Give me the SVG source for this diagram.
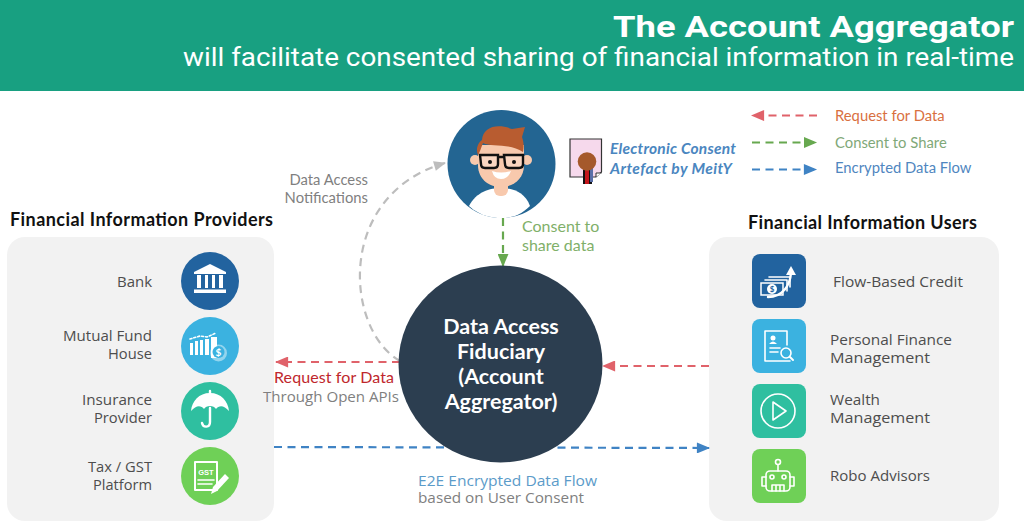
<svg xmlns="http://www.w3.org/2000/svg" width="1024" height="521" viewBox="0 0 1024 521">
<style>
.r{font-family:"Open Sans","Liberation Sans",sans-serif;font-size:15px;fill:#4d4d4d}
.l{font-family:Lato,"Liberation Sans",sans-serif}
.h{font-family:Lato,"Liberation Sans",sans-serif;font-weight:700;font-size:18px;fill:#111}
.c{font-family:Lato,"Liberation Sans",sans-serif;font-weight:700;font-size:21.5px;fill:#fff;text-anchor:middle}
.end{text-anchor:end}
.dash{fill:none;stroke-width:2.2;stroke-dasharray:8 5.500}
.ic{fill:none;stroke:#fff;stroke-width:1.6;stroke-linecap:round;stroke-linejoin:round}
.if{fill:#fff}
</style>
<defs>
<marker id="mr" viewBox="0 0 12 10" refX="11" refY="5" markerWidth="14" markerHeight="11" markerUnits="userSpaceOnUse" orient="auto"><path d="M0 0L12 5L0 10Z" fill="#e0626a"/></marker>
<marker id="mg" viewBox="0 0 12 10" refX="11" refY="5" markerWidth="14" markerHeight="11" markerUnits="userSpaceOnUse" orient="auto"><path d="M0 0L12 5L0 10Z" fill="#67a84f"/></marker>
<marker id="mb" viewBox="0 0 12 10" refX="11" refY="5" markerWidth="15" markerHeight="11" markerUnits="userSpaceOnUse" orient="auto"><path d="M0 0L12 5L0 10Z" fill="#3f83c4"/></marker>
<marker id="my" viewBox="0 0 12 10" refX="11" refY="5" markerWidth="14" markerHeight="10" markerUnits="userSpaceOnUse" orient="auto"><path d="M0 0L12 5L0 10Z" fill="#bdbdbd"/></marker>
</defs>
<g id="header">
<rect width="1024" height="91" fill="#18a081"/>
<text x="1014" y="37" class="end" font-family="Roboto,sans-serif" font-weight="700" font-size="30" fill="#fff" textLength="401" lengthAdjust="spacingAndGlyphs">The Account Aggregator</text>
<text x="1014" y="66" class="end" font-family="Roboto,sans-serif" font-size="25" fill="#fff" textLength="831" lengthAdjust="spacingAndGlyphs">will facilitate consented sharing of financial information in real-time</text>
</g>
<g id="panel-providers"><rect x="7" y="237" width="267" height="284" rx="18" fill="#f2f2f2"/>
<text x="10" y="226" class="h" textLength="263">Financial Information Providers</text></g>
<g id="panel-users"><rect x="709" y="237" width="290" height="284" rx="18" fill="#f2f2f2"/>
<text x="748" y="229" class="h" textLength="229">Financial Information Users</text></g>
<g id="connectors">
<path class="dash" stroke="#bdbdbd" d="M400 361C345 330 335 195 445 163" marker-end="url(#my)"/>
<path class="dash" stroke="#67a84f" d="M503 218V266" marker-end="url(#mg)"/>
<path class="dash" stroke="#e0626a" d="M400 362H276" marker-end="url(#mr)"/>
<path class="dash" stroke="#e0626a" d="M709 366H603" marker-end="url(#mr)"/>
<path class="dash" stroke="#3f83c4" d="M274 447L709 448" marker-end="url(#mb)"/>
</g>
<g id="legend">
<path class="dash" stroke="#e0626a" d="M817 115.500H752" marker-end="url(#mr)"/>
<path class="dash" stroke="#67a84f" d="M752 142.500H816" marker-end="url(#mg)"/>
<path class="dash" stroke="#3f83c4" d="M752 169.500H816" marker-end="url(#mb)"/>
<text x="835" y="121" class="l" font-size="14.800" fill="#d9703f">Request for Data</text>
<text x="835" y="148" class="l" font-size="14.800" fill="#7fa878">Consent to Share</text>
<text x="835" y="173" class="l" font-size="14.800" fill="#4f86c0">Encrypted Data Flow</text>
</g>
<g id="node-user">
<circle cx="501.500" cy="164" r="54" fill="#236592"/>
<path d="M469 206C476 192 490 188 501 188S525 192 530 206C520 216 510 218 501 218S480 216 469 206Z" fill="#fff"/>
<rect x="494" y="176" width="14" height="20" rx="6" fill="#f8c9ad"/>
<circle cx="475" cy="160" r="5" fill="#f8c9ad"/><circle cx="527" cy="160" r="5" fill="#f8c9ad"/>
<path d="M478 145H524V165C524 180 512 187 501 187S478 180 478 165Z" fill="#f8c9ad"/>
<path d="M478 155C475 148 479 142 482 140C483 127 497 123 512 129L525 127L522 137C524 143 524 147 523 152C510 143 490 147 483 143C481 148 480 152 478 155Z" fill="#b85c30"/>
<path d="M480 155H498V164Q498 168 494 168H485Q481 168 481 164ZM504 155H523V164Q523 168 519 168H509Q505 168 505 164ZM498 157H504" fill="#fff" fill-opacity=".25" stroke="#111" stroke-width="2.400"/>
<circle cx="490" cy="162" r="2" fill="#111"/><circle cx="514" cy="162" r="2" fill="#111"/>
<path d="M492 171Q501 174 511 171Q508 179 501 179T492 171Z" fill="#fff"/>
</g>
<g id="node-certificate">
<path d="M570 139H601.500V172L596 177H570Z" fill="#f6d9ec" stroke="#333" stroke-width="1.200"/>
<path d="M596 177V173H601.500" fill="#fff" stroke="#333"/>
<path d="M583 165H592V184H583Z" fill="#111"/><path d="M585 165H589V184H585Z" fill="#c4161c"/><path d="M590 168H593V182H590Z" fill="#5a6fa8"/>
<circle cx="587" cy="161.500" r="9.300" fill="#a5592b"/>
<text x="610" y="154" class="l" font-style="italic" font-weight="700" font-size="15.500" fill="#4a86c0" textLength="126">Electronic Consent</text>
<text x="610" y="174" class="l" font-style="italic" font-weight="700" font-size="15.500" fill="#4a86c0" textLength="122">Artefact by MeitY</text>
</g>
<g id="labels">
<text x="368" y="185" class="l end" font-size="14.800" fill="#7f7f7f">Data Access</text>
<text x="368" y="203" class="l end" font-size="14.800" fill="#7f7f7f">Notifications</text>
<text x="522" y="232" class="l" font-size="16" fill="#7fb069">Consent to</text>
<text x="522" y="251" class="l" font-size="16" fill="#7fb069">share data</text>
<text x="394" y="383" class="l end" font-size="16" fill="#c0272d" textLength="120">Request for Data</text>
<text x="399" y="402" class="r end" style="fill:#808080;font-size:14px" textLength="136" lengthAdjust="spacingAndGlyphs">Through Open APIs</text>
<text x="418" y="486" class="r" style="fill:#5b9bc9;font-size:14.500px" textLength="179" lengthAdjust="spacingAndGlyphs">E2E Encrypted Data Flow</text>
<text x="418" y="503" class="r" style="fill:#808080;font-size:14.500px" textLength="166" lengthAdjust="spacingAndGlyphs">based on User Consent</text>
</g>
<g id="node-aa">
<ellipse cx="500.500" cy="364" rx="102" ry="98.500" fill="#2c3e50"/>
<text x="501" y="334" class="c">Data Access</text>
<text x="501" y="359" class="c">Fiduciary</text>
<text x="501" y="384" class="c">(Account</text>
<text x="501" y="409" class="c">Aggregator)</text>
</g>
<g id="node-bank">
<circle cx="210" cy="281" r="29" fill="#22639f"/>
<path class="if" d="M210 264L226 272V274H194V272Z"/>
<path class="if" d="M197 275h4v13h-4zM205 275h3v13h-3zM212 275h3v13h-3zM219 275h4v13h-4zM194 289.500H226V293H194Z"/>
<text x="152" y="287" class="r end" textLength="35" lengthAdjust="spacingAndGlyphs">Bank</text>
</g>
<g id="node-mutual-fund">
<circle cx="210" cy="346" r="29" fill="#3bb2e0"/>
<path class="if" d="M190 355V343h3v12zM195 355V341h3v14zM200 355V340h3v15zM205 355V339h4v16zM211 358V337h6v21z"/>
<path class="ic" stroke-width="1" stroke-dasharray="2 2" d="M190 339L200 336L207 337L216 333"/>
<circle cx="218.500" cy="353" r="8.500" fill="#fff" fill-opacity=".45"/>
<circle cx="218.500" cy="352" r="6" fill="#3bb2e0"/>
<text x="218.500" y="355.500" font-family="Lato,sans-serif" font-size="10" font-weight="700" text-anchor="middle" fill="#fff">$</text>
<text x="152" y="341" class="r end" textLength="89" lengthAdjust="spacingAndGlyphs">Mutual Fund</text>
<text x="152" y="359" class="r end" textLength="44" lengthAdjust="spacingAndGlyphs">House</text>
</g>
<g id="node-insurance">
<circle cx="210" cy="411" r="29" fill="#2fbfa0"/>
<path class="if" d="M210 393C199 393 192 401 191 411C196 405 201 405 204 409C206 405 214 405 216 409C219 405 224 405 229 411C228 401 221 393 210 393Z"/>
<path class="ic" style="stroke-width:2.400" d="M210 394V391M210 408V422C210 428 203 428 202 423"/>
<text x="152" y="405" class="r end" textLength="70" lengthAdjust="spacingAndGlyphs">Insurance</text>
<text x="152" y="423" class="r end" textLength="58" lengthAdjust="spacingAndGlyphs">Provider</text>
</g>
<g id="node-tax">
<circle cx="210" cy="476" r="29" fill="#6fd057"/>
<path class="ic" style="stroke-width:2" d="M195 462H217V490H195Z"/>
<text x="206" y="475" font-family="'Liberation Sans',sans-serif" font-size="7.500" font-weight="700" text-anchor="middle" fill="#fff">GST</text>
<path class="ic" d="M198 480H214M198 484H212"/>
<path class="if" d="M225 474L229 478L217 491L211 494L213 487Z"/>
<text x="152" y="472" class="r end" textLength="64" lengthAdjust="spacingAndGlyphs">Tax / GST</text>
<text x="152" y="490" class="r end" textLength="59" lengthAdjust="spacingAndGlyphs">Platform</text>
</g>
<g id="node-credit">
<rect x="752" y="254" width="54" height="54" rx="8" fill="#22639f"/>
<rect x="761" y="283" width="22" height="12" fill="none" stroke="#fff" stroke-width="1.500"/>
<path class="ic" d="M765 280H787V291M769 277H790V287"/>
<circle cx="772" cy="289" r="5" fill="#fff"/>
<text x="772" y="292" font-family="Lato,sans-serif" font-size="8" font-weight="700" text-anchor="middle" fill="#22639f">$</text>
<path class="ic" style="stroke-width:2.400" d="M768 297C783 297 790 285 791 273"/>
<path class="if" d="M791 266L796 275H786Z"/>
<text x="833" y="287" class="r" textLength="130" lengthAdjust="spacingAndGlyphs">Flow-Based Credit</text>
</g>
<g id="node-pfm">
<rect x="752" y="319" width="54" height="54" rx="8" fill="#3bb2e0"/>
<path class="ic" d="M765 331H787V345M765 331V361H790"/>
<circle cx="773" cy="338" r="2.500" class="if"/>
<path class="if" d="M769 344Q773 339 777 344Z"/>
<path class="ic" d="M770 348H780M770 352H778"/>
<circle cx="786" cy="353" r="5" class="ic"/>
<path class="ic" style="stroke-width:2" d="M790 357L793 360"/>
<text x="830" y="345" class="r" textLength="122" lengthAdjust="spacingAndGlyphs">Personal Finance</text>
<text x="830" y="363" class="r" textLength="100" lengthAdjust="spacingAndGlyphs">Management</text>
</g>
<g id="node-wealth">
<rect x="752" y="384" width="54" height="54" rx="8" fill="#2fbfa0"/>
<circle cx="778" cy="411" r="17" class="ic"/>
<path class="ic" d="M773 402L786 411L773 420Z"/>
<text x="830" y="405" class="r" textLength="50" lengthAdjust="spacingAndGlyphs">Wealth</text>
<text x="830" y="423" class="r" textLength="100" lengthAdjust="spacingAndGlyphs">Management</text>
</g>
<g id="node-robo">
<rect x="752" y="449" width="54" height="54" rx="8" fill="#6fd057"/>
<rect x="766" y="471" width="24" height="20" rx="4" class="ic"/>
<path class="ic" d="M778 471V465M766 477H762V486H766M790 477H794V486H790M772 491V485H784V491M776 485V491M780 485V491"/>
<circle cx="778" cy="462" r="2.500" class="ic"/>
<circle cx="772" cy="477" r="2" class="ic"/><circle cx="784" cy="477" r="2" class="ic"/>
<text x="830" y="481" class="r" textLength="100" lengthAdjust="spacingAndGlyphs">Robo Advisors</text>
</g>
</svg>
